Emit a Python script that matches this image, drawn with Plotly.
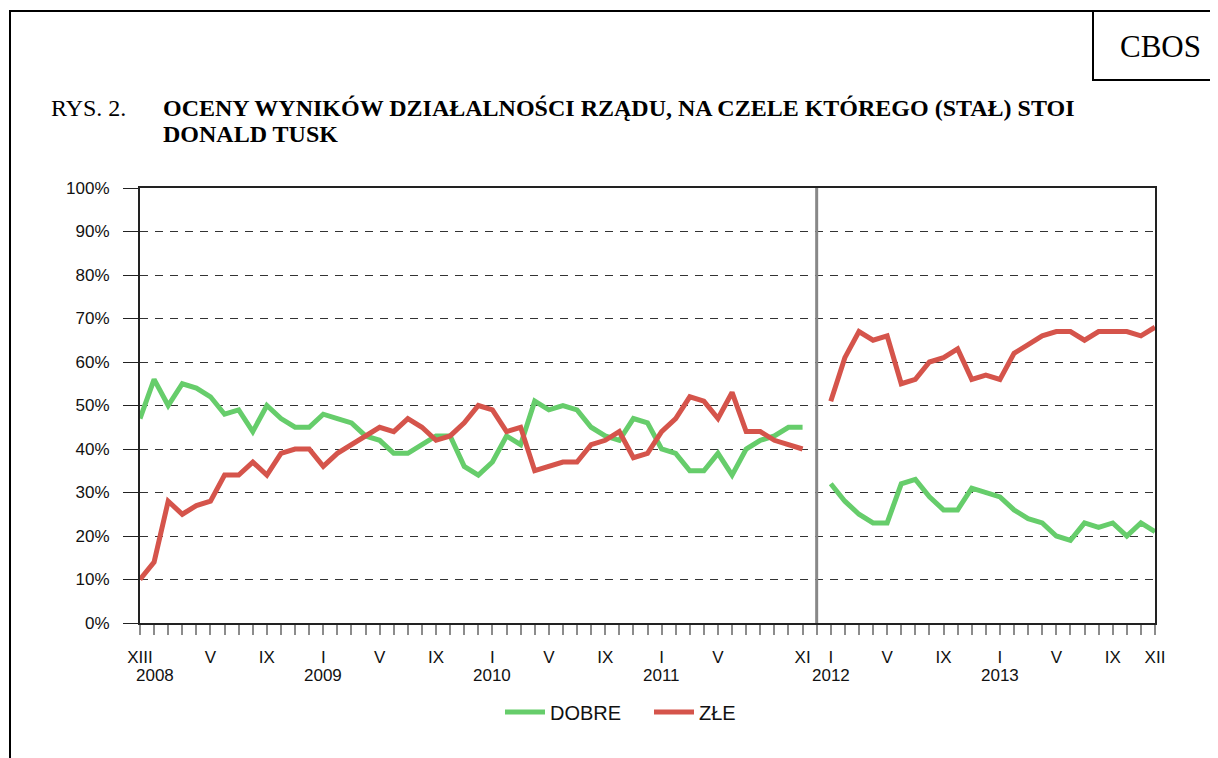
import plotly.graph_objects as go

# ---- data ----
months_idx = list(range(73))  # XII 2007 ... XII 2013 (index 48 = XII 2011, no data)
dobre = [47, 56, 50, 55, 54, 52, 48, 49, 44, 50, 47, 45, 45, 48, 47, 46, 43, 42, 39, 39,
         41, 43, 43, 36, 34, 37, 43, 41, 51, 49, 50, 49, 45, 43, 42, 47, 46, 40, 39, 35,
         35, 39, 34, 40, 42, 43, 45, 45, None,
         32, 28, 25, 23, 23, 32, 33, 29, 26, 26, 31, 30, 29, 26, 24, 23, 20, 19, 23, 22,
         23, 20, 23, 21]
zle = [10, 14, 28, 25, 27, 28, 34, 34, 37, 34, 39, 40, 40, 36, 39, 41, 43, 45, 44, 47,
       45, 42, 43, 46, 50, 49, 44, 45, 35, 36, 37, 37, 41, 42, 44, 38, 39, 44, 47, 52,
       51, 47, 53, 44, 44, 42, 41, 40, None,
       51, 61, 67, 65, 66, 55, 56, 60, 61, 63, 56, 57, 56, 62, 64, 66, 67, 67, 65, 67,
       67, 67, 66, 68]
month_tick_pos = [0, 5, 9, 13, 17, 21, 25, 29, 33, 37, 41, 47, 49, 53, 57, 61, 65, 69, 72]
month_tick_txt = ["XIII", "V", "IX", "I", "V", "IX", "I", "V", "IX", "I", "V", "XI",
                  "I", "V", "IX", "I", "V", "IX", "XII"]
year_pos = [1.05, 13, 25, 37, 49, 61]
year_txt = ["2008", "2009", "2010", "2011", "2012", "2013"]
y_ticks = list(range(0, 101, 10))
divider_at = 48

# page offset (browser body margin)
OX, OY = 8, 8
W, H = 1210, 750
L, R, T, B = 140 - OX, 1155 - OX, 188 - OY, 623 - OY


def px(xp):
    return (xp - OX - L) / (R - L)


def py(yp):
    return (B - (yp - OY)) / (B - T)


GREEN = "#66CD6B"
RED = "#D5544B"

fig = go.Figure()
fig.add_trace(go.Scatter(x=months_idx, y=dobre, mode="lines", name="DOBRE",
                         line=dict(color=GREEN, width=5), connectgaps=False))
fig.add_trace(go.Scatter(x=months_idx, y=zle, mode="lines", name="ZŁE",
                         line=dict(color=RED, width=5), connectgaps=False))

ticktext = []
for i in months_idx:
    ticktext.append(month_tick_txt[month_tick_pos.index(i)] if i in month_tick_pos else "")

fig.update_xaxes(range=[0, 72], tickmode="array", tickvals=months_idx, ticktext=ticktext,
                 ticks="outside", ticklen=10, tickwidth=1.5, tickcolor="#8c8c8c",
                 showgrid=False, zeroline=False, showline=True, linecolor="#222",
                 linewidth=2, mirror=True,
                 tickfont=dict(family="Liberation Sans", size=17, color="#111"),
                 ticklabelstandoff=8)
fig.update_yaxes(range=[0, 100], tickmode="array", tickvals=y_ticks,
                 ticktext=[f"{v}%" for v in y_ticks],
                 ticks="outside", ticklen=15, tickwidth=1, tickcolor="#222",
                 showgrid=True, gridcolor="#333", griddash="8px,7px", gridwidth=1,
                 zeroline=False, showline=True, linecolor="#222", linewidth=2, mirror=True,
                 tickfont=dict(family="Liberation Sans", size=17, color="#111"),
                 ticklabelstandoff=10)

shapes = [
    dict(type="line", xref="x", yref="paper", x0=divider_at, x1=divider_at, y0=0, y1=1,
         line=dict(color="#888888", width=3)),
    dict(type="line", xref="paper", yref="paper", x0=px(10), x1=px(10), y0=py(10), y1=py(780),
         line=dict(color="#000", width=2)),
    dict(type="line", xref="paper", yref="paper", x0=px(10), x1=px(1240), y0=py(11), y1=py(11),
         line=dict(color="#000", width=2)),
    dict(type="rect", xref="paper", yref="paper", x0=px(1093), x1=px(1250), y0=py(80), y1=py(11),
         line=dict(color="#000", width=2)),
]

annotations = [
    dict(text="RYS. 2.", xref="paper", yref="paper", x=px(49), y=py(108), xanchor="left",
         yanchor="middle", showarrow=False,
         font=dict(family="Liberation Serif", size=24, color="#000")),
    dict(text="<b>OCENY WYNIKÓW DZIAŁALNOŚCI RZĄDU, NA CZELE KTÓREGO (STAŁ) STOI</b>",
         xref="paper", yref="paper", x=px(161), y=py(108), xanchor="left", yanchor="middle",
         showarrow=False, font=dict(family="Liberation Serif", size=24, color="#000")),
    dict(text="<b>DONALD TUSK</b>", xref="paper", yref="paper", x=px(161), y=py(134),
         xanchor="left", yanchor="middle", showarrow=False,
         font=dict(family="Liberation Serif", size=24, color="#000")),
    dict(text="CBOS", xref="paper", yref="paper", x=px(1160), y=py(46), xanchor="center",
         yanchor="middle", showarrow=False,
         font=dict(family="Liberation Serif", size=31, color="#000")),
]
for p, t in zip(year_pos, year_txt):
    annotations.append(dict(text=t, xref="x", yref="paper", x=p,
                            y=py(675), xanchor="center", yanchor="middle", showarrow=False,
                            font=dict(family="Liberation Sans", size=17, color="#111")))

fig.update_layout(
    width=W, height=H, margin=dict(l=L, r=W - R, t=T, b=H - B, autoexpand=False),
    paper_bgcolor="white", plot_bgcolor="white",
    shapes=shapes, annotations=annotations,
    showlegend=True,
    legend=dict(orientation="h", x=px(500), xanchor="left", y=py(712), yanchor="middle",
                font=dict(family="Liberation Sans", size=20, color="#111"),
                itemwidth=40, entrywidth=94, tracegroupgap=0, bgcolor="rgba(0,0,0,0)"),
)

fig.write_html("out.html")
